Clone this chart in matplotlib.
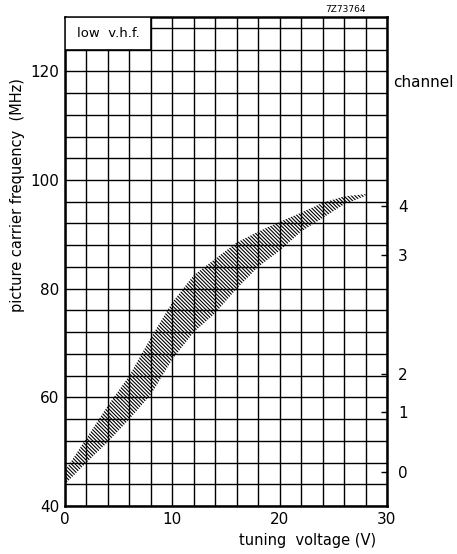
import numpy as np
import matplotlib
matplotlib.use("Agg")
import matplotlib.pyplot as plt
from matplotlib.patches import Rectangle

plt.rcParams['font.family'] = ['DejaVu Sans']
plt.rcParams['hatch.linewidth'] = 0.8

# Band (tuning characteristic spread)
voltage = [0, 2, 4, 6, 8, 10, 12, 14, 16, 18, 20, 22, 24, 26, 28]
freq_upper = [46.5, 52.5, 58.5, 64.0, 71.0, 77.5, 82.5, 85.5, 88.5, 90.5, 92.3, 94.0, 95.8, 97.0, 97.4]
freq_lower = [44.0, 48.0, 51.8, 56.0, 60.5, 67.0, 72.0, 75.5, 80.0, 84.0, 87.0, 90.5, 93.0, 95.5, 97.1]

# Channel markers (picture carrier, MHz)
channel_labels = ["0", "1", "2", "3", "4"]
channel_freqs = [46.25, 57.25, 64.25, 86.25, 95.25]

x_major = [0, 10, 20, 30]
y_major = [40, 60, 80, 100, 120]

fig = plt.figure(figsize=(4.57, 5.54), dpi=100)
ax = fig.add_axes([65/457, 48/554, 322/457, 489/554])
ax.set_xlim(0, 30)
ax.set_ylim(40, 130)

ax.set_xticks(x_major)
ax.set_yticks(y_major)
ax.set_xticks(np.arange(0, 31, 2), minor=True)
ax.set_yticks(np.arange(40, 130, 4), minor=True)
ax.grid(which='both', color='black', linewidth=1.0)
ax.set_axisbelow(True)
ax.tick_params(which='both', length=0, labelsize=11, pad=4)
for s in ax.spines.values():
    s.set_linewidth(1.8)

ax.fill_between(voltage, freq_lower, freq_upper, facecolor='none', edgecolor='black',
                hatch='\\' * 9, linewidth=0, zorder=3)

# label box
ax.add_patch(Rectangle((0, 124), 8, 6, facecolor='white', edgecolor='black',
                       linewidth=1.2, zorder=4))
ax.text(4, 127, "low  v.h.f.", ha='center', va='center', fontsize=9.5, zorder=5)

# right channel axis
ax2 = ax.twinx()
ax2.set_ylim(40, 130)
ax2.set_yticks(channel_freqs)
ax2.set_yticklabels(channel_labels)
ax2.tick_params(axis='y', direction='in', length=4, width=1, labelsize=11, pad=8)
for s in ax2.spines.values():
    s.set_visible(False)
ax.text(1.02, 118, "channel", transform=ax.get_yaxis_transform(), ha='left',
        va='center', fontsize=11)

fig.text(18/457, 1 - 195/554, "picture carrier frequency  (MHz)", rotation=90,
         ha='center', va='center', fontsize=10.5)
fig.text(308/457, 1 - 540/554, "tuning  voltage (V)", ha='center', va='center', fontsize=10.5)
fig.text(345/457, 1 - 10/554, "7Z73764", ha='center', va='center', fontsize=6.5)

fig.savefig("out.png", dpi=100)
